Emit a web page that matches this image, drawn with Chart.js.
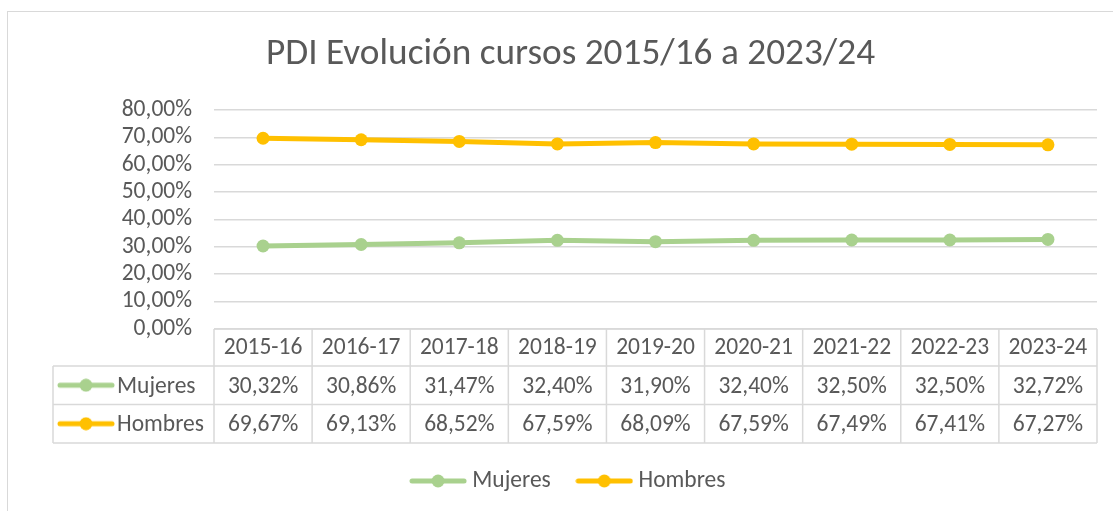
<!DOCTYPE html>
<html>
<head>
<meta charset="utf-8">
<script src="https://cdn.jsdelivr.net/npm/chart.js@4/dist/chart.umd.min.js"></script>
<style>
  html, body { margin: 0; padding: 0; background: #fff; overflow: hidden; }
  #frame {
    position: absolute; left: 7px; top: 11px;
    width: 1300px; height: 700px;
    border: 1.5px solid #d9d9d9;
  }
  #wrap { position: absolute; left: 0; top: 0; width: 1113px; height: 511px; }
</style>
</head>
<body>
<div id="frame"></div>
<div id="wrap"><canvas id="myChart"></canvas></div>
<script>
const FONT = "Carlito, Calibri, Lato, sans-serif";
const TEXT = "#595959";
const GRID = "#d9d9d9";
const FS = 23.5;

const cursos = ["2015-16", "2016-17", "2017-18", "2018-19", "2019-20", "2020-21", "2021-22", "2022-23", "2023-24"];
const mujeres = [30.32, 30.86, 31.47, 32.40, 31.90, 32.40, 32.50, 32.50, 32.72];
const hombres = [69.67, 69.13, 68.52, 67.59, 68.09, 67.59, 67.49, 67.41, 67.27];

const green = "#a9d18e";
const yellow = "#ffc000";

const pct = (v) => v.toFixed(2).replace(".", ",") + "%";

// line + dot sample used by legend and table
function sampleIcon(color) {
  const c = document.createElement("canvas");
  c.width = 58;
  c.height = 14;
  const g = c.getContext("2d");
  g.strokeStyle = color;
  g.lineWidth = 5;
  g.lineCap = "round";
  g.beginPath();
  g.moveTo(3, 7);
  g.lineTo(55, 7);
  g.stroke();
  g.fillStyle = color;
  g.beginPath();
  g.arc(29, 7, 6.5, 0, Math.PI * 2);
  g.fill();
  return c;
}

const icons = [sampleIcon(green), sampleIcon(yellow)];

const dataTable = {
  id: "dataTable",
  afterDraw(chart) {
    const { ctx, chartArea } = chart;
    const xs = chart.scales.x;
    const n = cursos.length;
    const band = xs.width / n;
    const top = chartArea.bottom;
    const headH = 37;
    const rowH = 38.5;
    const labelLeft = chartArea.left - 161;
    const right = chartArea.right;
    const edges = [];
    for (let i = 0; i <= n; i++) edges.push(xs.getPixelForValue(0) - band / 2 + i * band);
    const y1 = top + headH, y2 = y1 + rowH, y3 = y2 + rowH;

    ctx.save();
    ctx.strokeStyle = GRID;
    ctx.lineWidth = 1.5;
    ctx.beginPath();
    ctx.moveTo(edges[0], top); ctx.lineTo(right, top);
    [y1, y2, y3].forEach((y) => { ctx.moveTo(labelLeft, y); ctx.lineTo(right, y); });
    edges.forEach((x) => { ctx.moveTo(x, top); ctx.lineTo(x, y3); });
    ctx.moveTo(labelLeft, y1); ctx.lineTo(labelLeft, y3);
    ctx.stroke();

    ctx.fillStyle = TEXT;
    ctx.font = FS + "px " + FONT;
    ctx.textAlign = "center";
    ctx.textBaseline = "middle";
    cursos.forEach((c, i) => ctx.fillText(c, xs.getPixelForValue(i), top + headH / 2 + 1));

    const rows = [mujeres, hombres];
    rows.forEach((vals, r) => {
      const cy = y1 + rowH * r + rowH / 2 + 1.5;
      vals.forEach((v, i) => ctx.fillText(pct(v), xs.getPixelForValue(i), cy));
      ctx.drawImage(icons[r], labelLeft + 4, cy - 1.5 - 7);
      ctx.textAlign = "left";
      ctx.fillText(chart.data.datasets[r].label, labelLeft + 64, cy);
      ctx.textAlign = "center";
    });
    ctx.restore();
  },
};

new Chart(document.getElementById("myChart"), {
  type: "line",
  data: {
    labels: cursos,
    datasets: [
      {
        label: "Mujeres",
        data: mujeres,
        borderColor: green,
        backgroundColor: green,
        borderWidth: 5,
        pointRadius: 6.5,
        pointHoverRadius: 6.5,
        pointBorderWidth: 0,
        pointStyle: "circle",
      },
      {
        label: "Hombres",
        data: hombres,
        borderColor: yellow,
        backgroundColor: yellow,
        borderWidth: 5,
        pointRadius: 6.5,
        pointHoverRadius: 6.5,
        pointBorderWidth: 0,
        pointStyle: "circle",
      },
    ],
  },
  options: {
    responsive: true,
    maintainAspectRatio: false,
    animation: false,
    layout: { padding: { left: 44, right: 16, top: 0, bottom: 8.25 } },
    plugins: {
      title: {
        display: true,
        text: "PDI Evolución cursos 2015/16 a 2023/24",
        color: TEXT,
        font: { family: FONT, size: 37.3, weight: "normal", lineHeight: 1.2 },
        padding: { top: 32.6, bottom: 32.6 },
      },
      legend: {
        position: "bottom",
        labels: {
          color: TEXT,
          font: { family: FONT, size: FS },
          usePointStyle: true,
          pointStyleWidth: 45,
          padding: 31,
          generateLabels: (chart) =>
            chart.data.datasets.map((ds, i) => ({
              text: ds.label,
              fontColor: TEXT,
              pointStyle: icons[i],
              datasetIndex: i,
              lineWidth: 0,
              strokeStyle: "transparent",
              fillStyle: "transparent",
            })),
        },
      },
      tooltip: { enabled: false },
    },
    scales: {
      x: {
        offset: true,
        grid: { display: false },
        border: { display: false },
        ticks: { display: false },
        afterFit: (s) => { s.height = 109.25; },
      },
      y: {
        min: 0,
        max: 80,
        grid: { color: GRID, lineWidth: 1.5, drawTicks: false },
        border: { display: false },
        ticks: {
          stepSize: 10,
          autoSkip: false,
          color: TEXT,
          font: { family: FONT, size: FS },
          padding: 22,
          callback: (v) => pct(v),
        },
        afterFit: (s) => { s.width = 170; },
      },
    },
  },
  plugins: [dataTable],
});
</script>
</body>
</html>
